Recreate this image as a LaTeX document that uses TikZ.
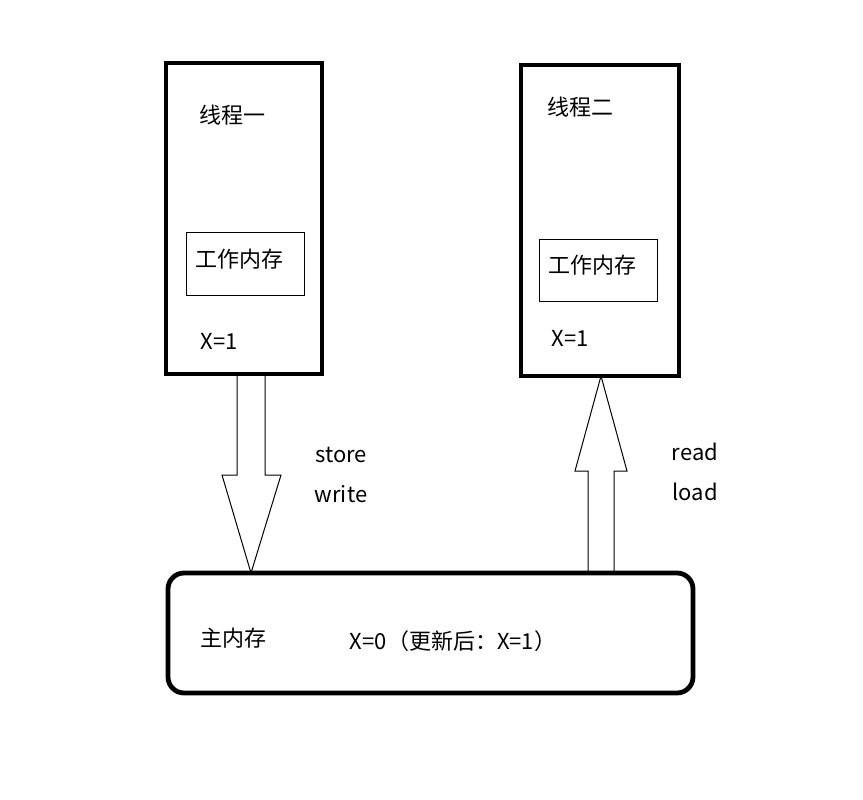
\documentclass[tikz,border=0pt]{standalone}
\usepackage{fontspec}
\setmainfont{Noto Sans CJK SC}

\begin{document}
\begin{tikzpicture}[x=0.75pt,y=-0.75pt,
		font=\fontsize{16.5}{19}\selectfont,
		heavy/.style={line width=3.6pt},
		membox/.style={line width=0.75pt},
		blockarrow/.style={line width=0.75pt, line join=miter}]
		\useasboundingbox (0,0) rectangle (863,799);
		% block arrows
		\draw[blockarrow] (237,374) -- (237,475) -- (222,475) -- (251,573) -- (281,475) -- (265,475) -- (265,374);
		\draw[blockarrow] (588,572) -- (588,471) -- (575,471) -- (601,376) -- (627,471) -- (614,471) -- (614,572);
		% thread one
		\draw[heavy] (166,63) rectangle (322,374);
		\draw[membox] (186,232) rectangle (304,295);
		\node (t1) at (232,115) {线程一};
		\node (w1) at (239,259) {工作内存};
		\node (x1) at (219,341) {X=1};
		% thread two
		\draw[heavy] (521,65) rectangle (679,376);
		\draw[membox] (539,239) rectangle (657,301);
		\node (t2) at (580,107) {线程二};
		\node (w2) at (592,265) {工作内存};
		\node (x2) at (570,338) {X=1};
		% main memory
		\draw[heavy, rounded corners=12pt] (168,573) rectangle (693,693);
		\node (m) at (233,638) {主内存};
		\node (x0) at (453,641) {X=0（更新后：X=1）};
		% labels
		\node (st) at (341,455) {store};
		\node (wr) at (341,494) {write};
		\node (rd) at (695,452) {read};
		\node (ld) at (695,492) {load};
	\end{tikzpicture}
\end{document}
